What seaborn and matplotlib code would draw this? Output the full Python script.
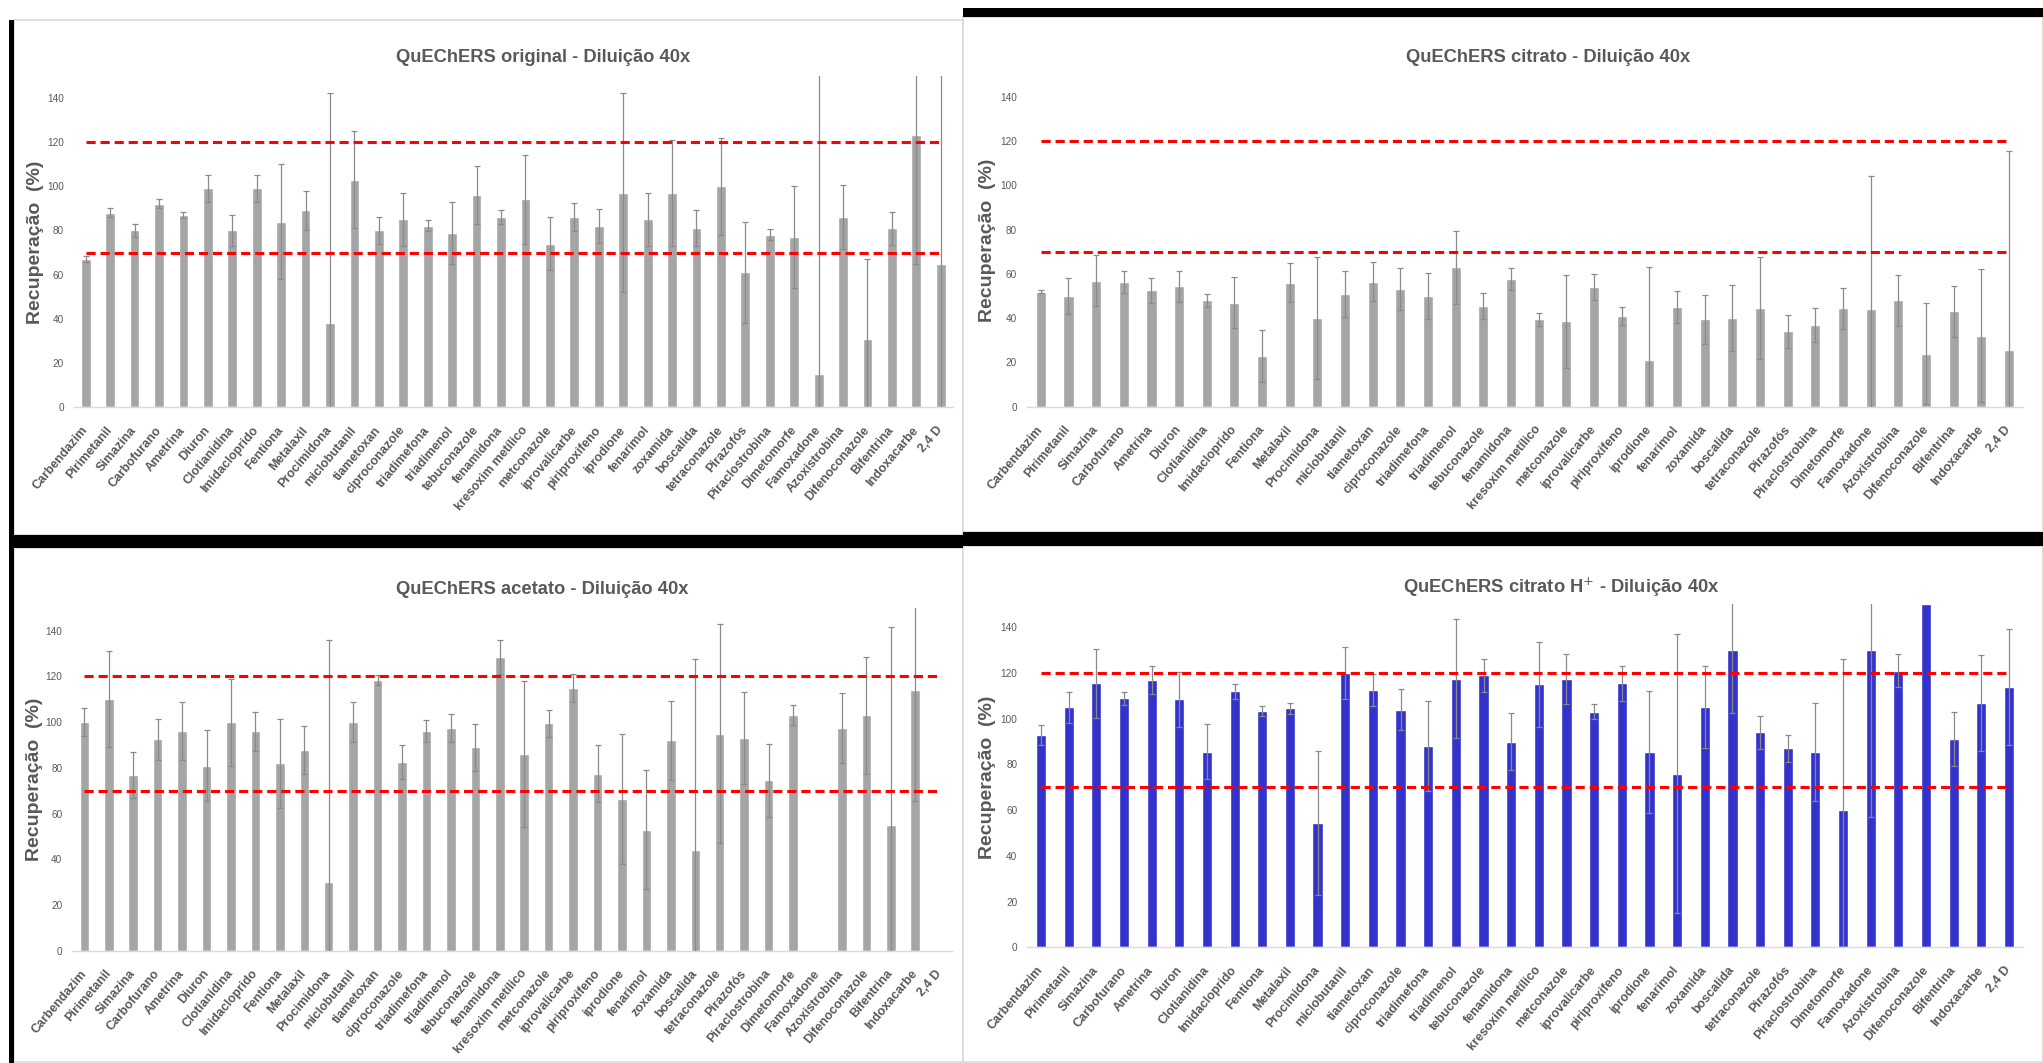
import numpy as np
import pandas as pd
import matplotlib
matplotlib.use("Agg")
import matplotlib.pyplot as plt
import seaborn as sns
from matplotlib import font_manager
from matplotlib.patches import Rectangle

# ---------------------------------------------------------------- data
categories = ["Carbendazim", "Pirimetanil", "Simazina", "Carbofurano", "Ametrina",
              "Diuron", "Clotianidina", "Imidacloprido", "Fentiona", "Metalaxil",
              "Procimidona", "miclobutanil", "tiametoxan", "ciproconazole",
              "triadimefona", "triadimenol", "tebuconazole", "fenamidona",
              "kresoxim metílico", "metconazole", "iprovalicarbe", "piriproxifeno",
              "iprodione", "fenarimol", "zoxamida", "boscalida", "tetraconazole",
              "Pirazofós", "Piraclostrobina", "Dimetomorfe", "Famoxadone",
              "Azoxistrobina", "Difenoconazole", "Bifentrina", "Indoxacarbe", "2,4 D"]

original_mean = [67, 88, 80, 92, 87, 99, 80, 99, 84, 89, 38, 103, 80, 85, 82, 79, 96, 86,
                 94, 74, 86, 82, 97, 85, 97, 81, 100, 61, 78, 77, 15, 86, 31, 81, 123, 65]
original_err = [1.5, 2, 3, 2, 1.5, 6, 7, 6, 26, 9, 104, 22, 6, 12, 2.5, 14, 13, 3,
                20, 12, 6.5, 7.5, 45, 12, 24, 8, 22, 23, 2.5, 23, 140, 14.5, 36, 7.5, 58, 90]

citrato_mean = [52, 50, 57, 56.5, 52.5, 54.5, 48, 47, 23, 56, 40, 51, 56.5, 53, 50, 63, 45.5, 57.5,
                39.5, 38.5, 54, 41, 21, 45, 39.5, 40, 44.5, 34, 37, 44.5, 44, 48, 24, 43, 32, 25.5]
citrato_err = [0.8, 8.3, 11.4, 5, 5.7, 7, 3, 11.6, 11.8, 8.7, 27.6, 10.3, 8.7, 9.5, 10.4, 16.5, 5.7, 5,
               3, 21, 6, 4, 42, 7.2, 11, 15, 23, 7.6, 7.6, 9.3, 60, 11.7, 23, 11.5, 30, 90]

acetato_mean = [100, 110, 77, 92.5, 96, 81, 100, 96, 82, 88, 30, 100, 118.5, 82.5, 96, 97.5, 89, 128.5,
                86, 99.5, 115, 77.5, 66.5, 53, 92, 44, 95, 93, 74.5, 103, np.nan, 97.5, 103, 55, 114, np.nan]
acetato_err = [6, 21, 10, 9, 12.7, 15.7, 19, 8.6, 19.5, 10.5, 106, 8.6, 2.2, 7.3, 4.8, 6, 10.2, 7.6,
               32, 6, 6, 12.5, 28.5, 26, 17.3, 83.6, 48, 20, 16, 4.4, np.nan, 15.4, 25.6, 86.6, 48.6, np.nan]

citrato_h_mean = [93, 105, 115.5, 109, 117, 108.5, 85.5, 112, 103.5, 104.5, 54.5, 120, 112.5, 104, 88,
                  117.5, 119, 90, 115, 117.5, 103, 115.5, 85.5, 76, 105, 130, 94, 87, 85.5, 60, 130,
                  121, 150, 91, 107, 114]
citrato_h_err = [4.4, 6.8, 15, 2.8, 6, 12, 12, 3.2, 2.2, 2.4, 31.5, 11.4, 7, 9, 19.7, 26, 7.3, 12.6,
                 18.5, 11, 3.3, 7.7, 26.8, 61, 17.9, 27.4, 7.3, 5.8, 21.5, 66, 73, 7.2, np.nan, 11.8, 21, 25.4]

limits = [70, 120]
y_ticks = [0, 20, 40, 60, 80, 100, 120, 140]

titles = ["QuEChERS original - Diluição 40x",
          "QuEChERS citrato - Diluição 40x",
          "QuEChERS acetato - Diluição 40x",
          "QuEChERS citrato H$^{+}$ - Diluição 40x"]
y_label = "Recuperação  (%)"

# ---------------------------------------------------------------- style
W, H, DPI = 2043, 1063, 100
GREY_BAR = "#A5A5A5"
BLUE_BAR = "#3333CC"
TEXT = "#595959"

sns.set_theme(style="white")
available = {f.name for f in font_manager.fontManager.ttflist}
has_narrow = "Liberation Sans Narrow" in available
base = ["Liberation Sans", "DejaVu Sans"]
plt.rcParams["font.family"] = base
narrow = (["Liberation Sans Narrow"] if has_narrow else []) + base
title_size = 15.5 if has_narrow else 13.2
tick_size = 8.5 if has_narrow else 7.2

fig = plt.figure(figsize=(W / DPI, H / DPI), dpi=DPI)
fig.patch.set_facecolor("white")


def px_axes(x0, x1, ytop, ybot):
    return fig.add_axes([x0 / W, 1 - ybot / H, (x1 - x0) / W, (ybot - ytop) / H])


def px_rect(x0, x1, ytop, ybot, **kw):
    fig.add_artist(Rectangle((x0 / W, 1 - ybot / H), (x1 - x0) / W, (ybot - ytop) / H,
                             transform=fig.transFigure, **kw))


# chart frames (light grey) and the dark separators between the screenshots
frames = [(14, 963, 20, 535), (963, 2043, 17, 532), (14, 963, 548, 1062), (963, 2043, 546, 1062)]
for fx0, fx1, fy0, fy1 in frames:
    px_rect(fx0, fx1, fy0, fy1, fill=True, facecolor="white", edgecolor="#D9D9D9", lw=1.2, zorder=0)
px_rect(9, 14, 20, 1063, facecolor="black", edgecolor="none", zorder=5)
px_rect(9, 963, 535, 548, facecolor="black", edgecolor="none", zorder=5)
px_rect(963, 2043, 532, 546, facecolor="black", edgecolor="none", zorder=5)
px_rect(963, 2043, 8, 17, facecolor="black", edgecolor="none", zorder=5)

panels = [
    dict(mean=original_mean, err=original_err, color=GREY_BAR, box=(73.5, 953.0, 75.6, 407.3),
         width=0.40, title_xy=(543, 58), ylab_xy=(36, 242)),
    dict(mean=citrato_mean, err=citrato_err, color=GREY_BAR, box=(1026.9, 2022.8, 74.6, 406.7),
         width=0.37, title_xy=(1548, 58), ylab_xy=(988, 240)),
    dict(mean=acetato_mean, err=acetato_err, color=GREY_BAR, box=(72.1, 951.9, 607.8, 950.7),
         width=0.39, title_xy=(542, 589), ylab_xy=(35, 779)),
    dict(mean=citrato_h_mean, err=citrato_h_err, color=BLUE_BAR, box=(1027.2, 2022.8, 604.4, 947.3),
         width=0.37, title_xy=(1561, 587), ylab_xy=(988, 777)),
]

x = np.arange(len(categories))
for spec, title in zip(panels, titles):
    ax = px_axes(*spec["box"])
    ax.set_facecolor("none")
    df = pd.DataFrame({"composto": categories, "recuperacao": spec["mean"]})
    sns.barplot(data=df, x="composto", y="recuperacao", order=categories, color=spec["color"],
                saturation=1, width=spec["width"], errorbar=None, ax=ax, zorder=2)
    ax.errorbar(x, spec["mean"], yerr=spec["err"], fmt="none", ecolor="#8A8A8A",
                elinewidth=0.9, capsize=2.5, capthick=0.9, zorder=3)
    for lim in limits:
        ax.plot(x, np.full(len(x), lim), color="#FF0000", lw=2.2, ls=(0, (3, 1.6)), zorder=4)

    ax.set_xlim(-0.5, len(categories) - 0.5)
    ax.set_ylim(0, 150)
    ax.set_yticks(y_ticks)
    ax.set_yticklabels([str(v) for v in y_ticks], fontsize=tick_size, color=TEXT, family=narrow)
    ax.set_xticks(x)
    ax.set_xticklabels(categories, rotation=50, ha="right", va="center", rotation_mode="anchor",
                       fontsize=9, fontweight="bold", color=TEXT)
    ax.tick_params(axis="y", length=0, pad=7)
    ax.tick_params(axis="x", length=0, pad=15)
    ax.set_xlabel("")
    ax.set_ylabel("")
    for side in ["top", "right", "left"]:
        ax.spines[side].set_visible(False)
    ax.spines["bottom"].set_color("#D9D9D9")
    ax.spines["bottom"].set_linewidth(1.0)
    ax.grid(False)

    tx, ty = spec["title_xy"]
    fig.text(tx / W, 1 - ty / H, title, ha="center", va="center", fontsize=title_size,
             fontweight="bold", color=TEXT, family=narrow)
    lx, ly = spec["ylab_xy"]
    fig.text(lx / W, 1 - ly / H, y_label, ha="center", va="center", rotation=90,
             fontsize=14, fontweight="bold", color=TEXT)

fig.savefig("out.png", dpi=DPI, facecolor="white")
